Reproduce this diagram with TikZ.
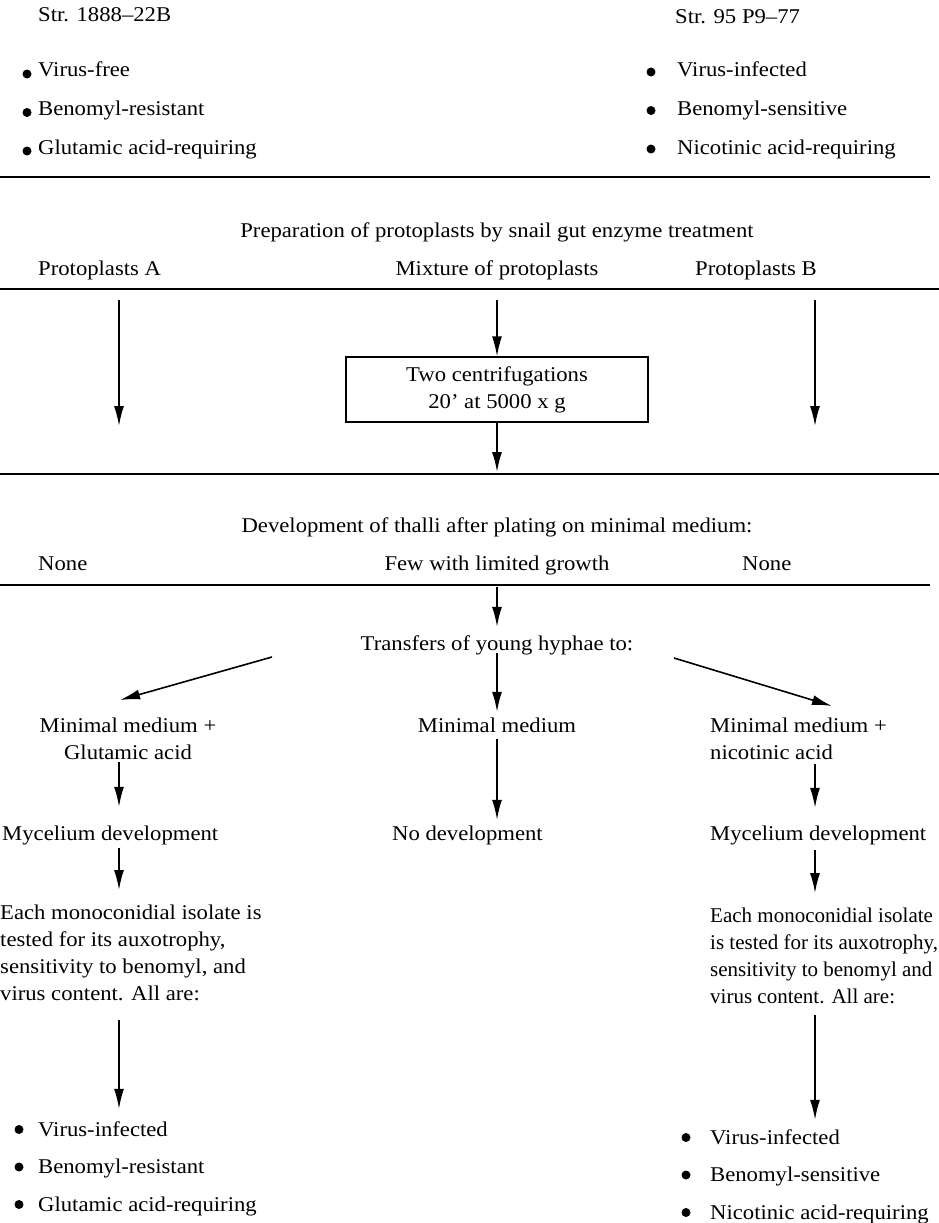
\documentclass[tikz,border=0pt]{standalone}
\usepackage{fontspec}
\setmainfont{Liberation Serif}[FakeStretch=1.08]
\newfontfamily\narrowfont{Liberation Serif}
\usetikzlibrary{arrows.meta}

\tikzset{
  txt/.style={font=\fontsize{21}{27}\selectfont, inner sep=0pt, text height=17pt, text depth=3pt, anchor=west},
  ctxt/.style={txt, anchor=center},
  para/.style={font=\fontsize{21}{27}\selectfont, inner sep=0pt, align=left, anchor=north west},
  bul/.style={circle, fill=black, inner sep=0pt, minimum size=9pt},
  flow/.style={-{Latex[length=20pt,width=10pt]}, line width=1.6pt},
  rule/.style={line width=1.3pt}
}

\begin{document}
\begin{tikzpicture}[x=1pt,y=-1pt]
  \useasboundingbox (0,0) rectangle (939,1223);

  % Columns of the arrows
  \coordinate (colA) at (119,0);
  \coordinate (colM) at (497,0);
  \coordinate (colB) at (815,0);

  % The two strains
  \node[txt] (strA) at (38,15) {Str. 1888--22B};
  \node[txt] (strB) at (675,17) {Str. 95 P9--77};
  \foreach \t [count=\i] in {Virus-free, Benomyl-resistant, Glutamic acid-requiring} {
    \node[bul] (bA\i) at (27,35.5+38.5*\i) {};
    \node[txt] (iA\i) at (38,31.5+38.5*\i) {\t};
  }
  \foreach \t [count=\i] in {Virus-infected, Benomyl-sensitive, Nicotinic acid-requiring} {
    \node[bul] (bB\i) at (651,33.5+38.5*\i) {};
    \node[txt] (iB\i) at (677,31.5+38.5*\i) {\t};
  }
  \draw[rule] (0,177) -- (930,177);

  % Protoplasts
  \node[ctxt] (prep) at (497,230) {Preparation of protoplasts by snail gut enzyme treatment};
  \node[txt] (protA) at (38,268) {Protoplasts A};
  \node[ctxt] (mix) at (497,268) {Mixture of protoplasts};
  \node[txt] (protB) at (695,268) {Protoplasts B};
  \draw[rule] (0,289) -- (939,289);
  \coordinate (topA) at (119,300);
  \coordinate (endA) at (119,426);
  \coordinate (topM) at (497,300);
  \coordinate (topB) at (815,300);
  \coordinate (endB) at (815,426);
  \draw[flow] (topA) -- (endA);
  \draw[flow] (topB) -- (endB);

  % Centrifugation box
  \node[draw, line width=1.3pt, font=\fontsize{21}{27}\selectfont, align=center,
        minimum width=302pt, minimum height=65pt, inner sep=0pt] (cent) at (497,389.5)
        {Two centrifugations\\ 20' at 5000 x g};
  \draw[flow] (topM) -- (cent.north);
  \coordinate (endM) at (497,472);
  \draw[flow] (cent.south) -- (endM);
  \draw[rule] (0,474) -- (939,474);

  % Development of thalli
  \node[ctxt] (dev) at (497,525) {Development of thalli after plating on minimal medium:};
  \node[txt] (noneA) at (38,563) {None};
  \node[ctxt] (few) at (497,563) {Few with limited growth};
  \node[txt] (noneB) at (742,563) {None};
  \draw[rule] (0,585) -- (930,585);

  % Transfers
  \coordinate (topT) at (497,587);
  \node[ctxt] (trans) at (497,643) {Transfers of young hyphae to:};
  \draw[flow] (topT) -- ([yshift=6pt]trans.north);
  \coordinate (trA) at (272,657);
  \coordinate (trB) at (674,658);
  \coordinate (tipA) at (120,700);
  \coordinate (tipB) at (832,706);
  \draw[flow] (trA) -- (tipA);
  \draw[flow] (trB) -- (tipB);

  % Media
  \node[para, align=center, anchor=north] (medA) at (128,718) {Minimal medium +\\ Glutamic acid};
  \node[ctxt] (medM) at (497,725) {Minimal medium};
  \node[para] (medB) at (710,718) {Minimal medium +\\ nicotinic acid};
  \draw[flow] (trans.south) -- ([yshift=3pt]medM.north);

  % Mycelium
  \node[txt] (myA) at (2,833) {Mycelium development};
  \node[txt] (noDev) at (392,833) {No development};
  \node[txt] (myB) at (710,833) {Mycelium development};
  \draw[flow, shorten <=2pt, shorten >=16pt] (medA.south -| colA) -- (myA.north -| colA);
  \draw[flow, shorten <=4pt, shorten >=3pt] (medM.south) -- (noDev.north -| colM);
  \draw[flow, shorten <=4pt, shorten >=15pt] (medB.south -| colB) -- (myB.north -| colB);

  % Tests
  \node[para] (parA) at (0,905) {Each monoconidial isolate is\\ tested for its auxotrophy,\\ sensitivity to benomyl, and\\ virus content. All are:};
  \node[para, font=\fontsize{21}{27}\narrowfont] (parB) at (710,908) {Each monoconidial isolate\\ is tested for its auxotrophy,\\ sensitivity to benomyl and\\ virus content. All are:};
  \draw[flow, shorten <=5pt, shorten >=15pt] (myA.south -| colA) -- (parA.north -| colA);
  \draw[flow, shorten <=7pt, shorten >=15pt] (myB.south -| colB) -- (parB.north -| colB);

  % Results
  \foreach \t [count=\i] in {Virus-infected, Benomyl-resistant, Glutamic acid-requiring} {
    \node[bul] (rbA\i) at (19,1092+37.5*\i) {};
    \node[txt] (rA\i) at (38,1091.5+37.5*\i) {\t};
  }
  \foreach \t [count=\i] in {Virus-infected, Benomyl-sensitive, Nicotinic acid-requiring} {
    \node[bul] (rbB\i) at (686,1100+37.5*\i) {};
    \node[txt] (rB\i) at (710,1099.5+37.5*\i) {\t};
  }
  \coordinate (pA) at (119,1020);
  \coordinate (pB) at (815,1015);
  \draw[flow, shorten >=10pt] (pA) -- (rA1.north -| colA);
  \draw[flow, shorten >=7pt] (pB) -- (rB1.north -| colB);
\end{tikzpicture}
\end{document}
